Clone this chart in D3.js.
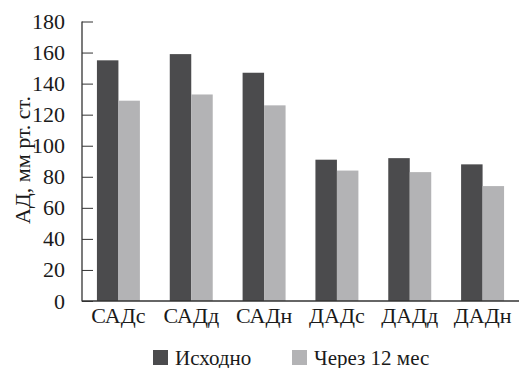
<!DOCTYPE html>
<html><head><meta charset="utf-8">
<script src="https://cdn.jsdelivr.net/npm/d3@7"></script>
<style>body{margin:0;background:#fff}svg{display:block}text{font-family:"Liberation Serif","Times New Roman",serif;fill:#1a1a1a}</style>
</head><body><div id="chart"></div>
<script>
const categories = ["САДс","САДд","САДн","ДАДс","ДАДд","ДАДн"];
const seriesNames = ["Исходно","Через 12 мес"];
const baseline = [155,159,147,91,92,88];
const after12 = [129,133,126,84,83,74];
const yTicks = [0,20,40,60,80,100,120,140,160,180];
const colors = ["#4b4b4d","#b3b3b5"];

const W=522,H=368;
const m={left:82,right:3,top:21.5,bottom:67};
const svg=d3.select("#chart").append("svg").attr("width",W).attr("height",H);
const iw=W-m.left-m.right, ih=H-m.top-m.bottom;
const g=svg.append("g").attr("transform",`translate(${m.left},${m.top})`);
const x0=d3.scaleBand().domain(categories).range([0,iw]).paddingInner(0.41).paddingOuter(0.205);
const x1=d3.scaleBand().domain(seriesNames).range([0,x0.bandwidth()]);
const y=d3.scaleLinear().domain([0,180]).range([ih,0]);
const data=categories.map((c,i)=>({c,vals:[baseline[i],after12[i]]}));
g.selectAll("g.grp").data(data).join("g").attr("class","grp")
 .attr("transform",d=>`translate(${x0(d.c)},0)`)
 .selectAll("rect").data(d=>d.vals.map((v,j)=>({v,s:seriesNames[j],j})))
 .join("rect").attr("x",d=>x1(d.s)).attr("width",x1.bandwidth())
 .attr("y",d=>y(d.v)).attr("height",d=>ih-y(d.v)).attr("fill",d=>colors[d.j]);
// y axis
const ya=g.append("g").call(d3.axisLeft(y).tickValues(yTicks).tickSize(-11).tickPadding(17).tickFormat(d3.format("d")));
ya.select(".domain").remove();
ya.selectAll("line").attr("stroke","#333").attr("stroke-width",1);
ya.selectAll("text").attr("font-size",22).attr("font-family","Liberation Serif").attr("fill","#1a1a1a");
g.append("line").attr("x1",0).attr("x2",0).attr("y1",0).attr("y2",ih+0.5).attr("stroke","#333").attr("stroke-width",1.3);
// x axis
const xa=g.append("g").attr("transform",`translate(0,${ih})`).call(d3.axisBottom(x0).tickSize(0).tickPadding(6));
xa.select(".domain").attr("d",`M0,0H${iw}`).attr("stroke","#333").attr("stroke-width",1.3);
xa.selectAll("text").attr("font-size",22).attr("font-family","Liberation Serif").attr("fill","#1a1a1a").attr("dy","0.71em");
// y label
svg.append("text").attr("transform","translate(30,160) rotate(-90)").attr("text-anchor","middle")
 .attr("font-size",22).text("АД, мм рт. ст.");
// legend
const leg=svg.append("g");
const lx=[153,292];
seriesNames.forEach((s,i)=>{
  leg.append("rect").attr("x",lx[i]).attr("y",350).attr("width",15).attr("height",15).attr("fill",colors[i]);
  leg.append("text").attr("x",lx[i]+22).attr("y",365).attr("font-size",21).text(s);
});
</script></body></html>
